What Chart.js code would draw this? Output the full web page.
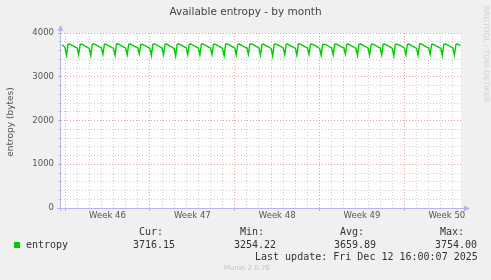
<!DOCTYPE html>
<html>
<head>
<meta charset="utf-8">
<script src="https://cdn.jsdelivr.net/npm/chart.js@4.4.1/dist/chart.umd.min.js"></script>
<style>
  html, body { margin: 0; padding: 0; background: #f0f0f0; }
  canvas { display: block; }
</style>
</head>
<body>
<canvas id="chart" width="491" height="280"></canvas>
<script>
// time axis is in hours from Sun Nov 9 16:00 (left edge) to Fri Dec 12 16:00 (right edge)
const rangeHours = 792;
const firstSampleHour = 2;   // Nov 9 18:00
const sampleStepHours = 3;
const firstMidnightHour = 8; // Mon Nov 10 00:00

// entropy (bytes), one row per day (00,03,06,...,21h)
const entropy = [
  3728, 3702,
  3668, 3495, 3744, 3750, 3731, 3713, 3694, 3672,
  3660, 3510, 3739, 3747, 3726, 3708, 3690, 3668,
  3649, 3482, 3737, 3752, 3735, 3716, 3698, 3677,
  3662, 3514, 3745, 3746, 3724, 3705, 3687, 3665,
  3653, 3492, 3750, 3753, 3732, 3714, 3694, 3671,
  3658, 3500, 3742, 3749, 3728, 3710, 3692, 3674,
  3666, 3520, 3738, 3744, 3725, 3709, 3690, 3669,
  3651, 3488, 3746, 3751, 3733, 3717, 3697, 3675,
  3657, 3505, 3741, 3747, 3727, 3707, 3689, 3667,
  3646, 3478, 3739, 3753, 3736, 3718, 3699, 3678,
  3663, 3510, 3743, 3748, 3729, 3711, 3693, 3670,
  3655, 3496, 3748, 3752, 3730, 3712, 3695, 3673,
  3661, 3508, 3740, 3745, 3726, 3707, 3688, 3666,
  3650, 3485, 3744, 3750, 3734, 3715, 3696, 3674,
  3659, 3502, 3738, 3746, 3728, 3709, 3691, 3669,
  3664, 3515, 3747, 3754, 3733, 3716, 3698, 3676,
  3652, 3490, 3741, 3749, 3727, 3708, 3690, 3668,
  3647, 3480, 3736, 3751, 3735, 3717, 3699, 3677,
  3660, 3504, 3745, 3747, 3725, 3706, 3688, 3666,
  3654, 3494, 3749, 3752, 3731, 3713, 3694, 3672,
  3662, 3512, 3742, 3748, 3729, 3711, 3692, 3671,
  3649, 3486, 3739, 3745, 3733, 3716, 3697, 3675,
  3658, 3502, 3746, 3750, 3727, 3709, 3691, 3669,
  3665, 3518, 3740, 3747, 3726, 3707, 3689, 3667,
  3651, 3489, 3744, 3753, 3734, 3715, 3696, 3674,
  3656, 3497, 3738, 3749, 3728, 3710, 3692, 3670,
  3661, 3507, 3747, 3751, 3730, 3712, 3694, 3672,
  3648, 3481, 3741, 3746, 3735, 3718, 3699, 3678,
  3659, 3503, 3743, 3748, 3727, 3708, 3690, 3668,
  3653, 3492, 3750, 3754, 3732, 3714, 3695, 3673,
  3663, 3513, 3739, 3745, 3725, 3706, 3688, 3666,
  3650, 3487, 3745, 3751, 3733, 3716, 3697, 3675,
  3657, 3500, 3741, 3748, 3730, 3716
];

const weekLabels = ["Week 46", "Week 47", "Week 48", "Week 49", "Week 50"];
const weekLabelHours = [92, 260, 428, 596, 764]; // Thursday 12:00 of each week
const yTicks = [0, 1000, 2000, 3000, 4000];

const statNames = ["Cur:", "Min:", "Avg:", "Max:"];
const statValues = ["3716.15", "3254.22", "3659.89", "3754.00"];
const lastUpdate = "Last update: Fri Dec 12 16:00:07 2025";

const MAJOR = "rgba(225,130,130,0.75)";
const MINOR = "rgba(200,200,200,0.9)";
const AXIS = "#b4b4f0";

function isWeekStart(h) {
    return (h - firstMidnightHour) % 168 === 0;
}

// white plot area, axis arrows and the munin text around the graph
const muninDecor = {
    id: "muninDecor",
    beforeDraw(chart) {
        const a = chart.chartArea, c = chart.ctx;
        c.save();
        c.fillStyle = "#ffffff";
        c.fillRect(a.left, a.top, a.right - a.left, a.bottom - a.top);
        c.restore();
    },
    afterDraw(chart) {
        const a = chart.chartArea, c = chart.ctx;
        c.save();
        // axes with arrows
        c.strokeStyle = AXIS;
        c.fillStyle = AXIS;
        c.lineWidth = 1;
        c.beginPath();
        c.moveTo(a.left - 0.5, a.bottom + 3);
        c.lineTo(a.left - 0.5, a.top - 4);
        c.moveTo(a.left - 4, a.bottom + 0.5);
        c.lineTo(a.right + 5, a.bottom + 0.5);
        c.stroke();
        c.beginPath();
        c.moveTo(a.left - 0.5, a.top - 8);
        c.lineTo(a.left - 3.5, a.top - 2);
        c.lineTo(a.left + 2.5, a.top - 2);
        c.closePath();
        c.fill();
        c.beginPath();
        c.moveTo(a.right + 9, a.bottom + 0.5);
        c.lineTo(a.right + 3, a.bottom - 2.5);
        c.lineTo(a.right + 3, a.bottom + 3.5);
        c.closePath();
        c.fill();

        // title
        c.fillStyle = "#444";
        c.textAlign = "center";
        c.textBaseline = "middle";
        c.font = "10.5px 'DejaVu Sans'";
        c.fillText("Available entropy - by month", 245.5, 12);

        // y axis title
        c.save();
        c.translate(11, 122);
        c.rotate(-Math.PI / 2);
        c.font = "9px 'DejaVu Sans'";
        c.fillStyle = "#555";
        c.fillText("entropy (bytes)", 0, 0);
        c.restore();

        // rrdtool watermark
        c.save();
        c.translate(486, 54);
        c.rotate(Math.PI / 2);
        c.font = "7.5px 'DejaVu Sans'";
        c.fillStyle = "#d2d2d2";
        c.fillText("RRDTOOL / TOBI OETIKER", 0, 0);
        c.restore();

        // legend table
        c.textAlign = "left";
        c.font = "10px 'DejaVu Sans Mono'";
        c.fillStyle = "#333";
        const nameX = [139, 240, 340, 440];
        const valX = [133, 234, 334, 435];
        statNames.forEach((s, i) => c.fillText(s, nameX[i], 232));
        statValues.forEach((s, i) => c.fillText(s, valX[i], 245));
        c.fillText("entropy", 26, 245);
        c.fillText(lastUpdate, 255, 257);
        c.fillStyle = "#00cc00";
        c.fillRect(14, 242, 6, 6);

        c.font = "7px 'DejaVu Sans'";
        c.fillStyle = "#c4c4c4";
        c.fillText("Munin 2.0.76", 224, 268);
        c.restore();
    }
};

const points = entropy.map((v, i) => ({x: firstSampleHour + i * sampleStepHours, y: v}));

new Chart(document.getElementById("chart"), {
    type: "line",
    data: {
        datasets: [{
            label: "entropy",
            data: points,
            borderColor: "#00cc00",
            borderWidth: 1.4,
            pointRadius: 0,
            tension: 0,
            fill: false
        }]
    },
    options: {
        responsive: false,
        animation: false,
        events: [],
        layout: {padding: {left: 0, right: 30, top: 33, bottom: 0}},
        plugins: {legend: {display: false}, tooltip: {enabled: false}},
        scales: {
            x: {
                type: "linear",
                min: 0,
                max: rangeHours,
                afterFit: (s) => { s.height = 72; },
                afterBuildTicks: (s) => {
                    let t = [];
                    for (let h = firstMidnightHour; h <= rangeHours; h += 24) t.push(h);
                    t = t.concat(weekLabelHours).sort((p, q) => p - q);
                    s.ticks = t.map(v => ({value: v}));
                },
                border: {display: false, dash: [1, 2]},
                grid: {
                    color: (ctx) => {
                        const v = ctx.tick ? ctx.tick.value : 0;
                        if (weekLabelHours.includes(v)) return "rgba(0,0,0,0)";
                        return isWeekStart(v) ? MAJOR : MINOR;
                    },
                    tickColor: (ctx) => {
                        const v = ctx.tick ? ctx.tick.value : 0;
                        return isWeekStart(v) ? MAJOR : "rgba(0,0,0,0)";
                    },
                    tickLength: 3,
                    lineWidth: 1
                },
                ticks: {
                    autoSkip: false,
                    maxRotation: 0,
                    padding: 0,
                    color: "#555",
                    font: {family: "DejaVu Sans", size: 8.5},
                    callback: (v) => {
                        const k = weekLabelHours.indexOf(v);
                        return k >= 0 ? weekLabels[k] : "";
                    }
                }
            },
            y: {
                min: 0,
                max: 4000,
                afterFit: (s) => { s.width = 61; },
                afterBuildTicks: (s) => {
                    const t = [];
                    for (let v = 0; v <= 4000; v += 200) t.push({value: v});
                    s.ticks = t;
                },
                border: {display: false, dash: [1, 2]},
                grid: {
                    color: (ctx) => (ctx.tick && ctx.tick.value % 1000 === 0) ? MAJOR : MINOR,
                    tickColor: (ctx) => (ctx.tick && ctx.tick.value % 1000 === 0) ? MAJOR : MINOR,
                    tickLength: 3,
                    lineWidth: 1
                },
                ticks: {
                    autoSkip: false,
                    padding: 4,
                    color: "#555",
                    font: {family: "DejaVu Sans", size: 8.5},
                    callback: (v) => yTicks.includes(v) ? String(v) : ""
                }
            }
        }
    },
    plugins: [muninDecor]
});
</script>
</body>
</html>
